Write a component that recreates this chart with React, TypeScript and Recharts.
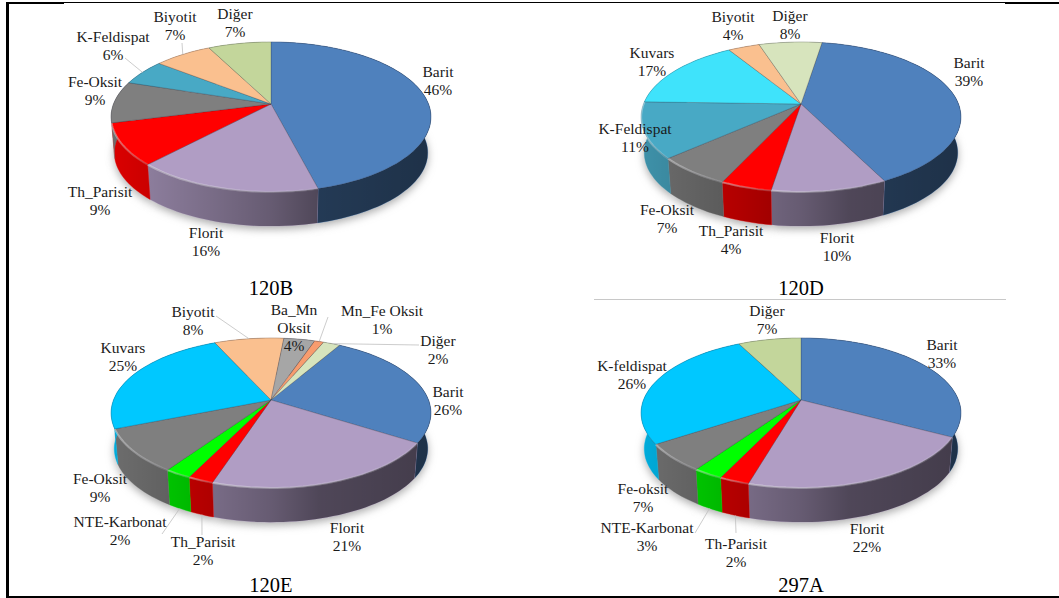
import React from 'react';
import { PieChart, Pie } from 'recharts';

// slice sizes are measured off the picture, the printed percents are kept apart because they do not always agree
// 120B
const names120B = ['Barit', 'Florit', 'Th_Parisit', 'Fe-Oksit', 'K-Feldispat', 'Biyotit', 'Diğer'];
const values120B = [46, 16, 9, 9, 5.6, 6.9, 7.5];
const printed120B = [46, 16, 9, 9, 6, 7, 7];
const colors120B = ['#4f81bd', '#b09dc4', '#ff0000', '#7f7f7f', '#48a9c5', '#fac08f', '#c3d69b'];
const spots120B = [[167, -27], [-65, 134], [-171, 93], [-176, -17], [-158, -62], [-96, -82], [-36, -85]];
const leaders120B = [null, null, null, null, [-146, -46], [-89, -61], null];

// 120D
const names120D = ['Barit', 'Florit', 'Th_Parisit', 'Fe-Oksit', 'K-Feldispat', 'Kuvars', 'Biyotit', 'Diğer'];
const values120D = [40, 9.9, 4.4, 6.5, 12, 15.7, 3.75, 7.5];
const printed120D = [39, 10, 4, 7, 11, 17, 4, 8];
const colors120D = ['#4f81bd', '#b09dc4', '#ff0000', '#7f7f7f', '#48a9c5', '#3fe3fb', '#fac08f', '#d7e4bd'];
const spots120D = [[168, -36], [36, 139], [-70, 132], [-134, 111], [-166, 30], [-149, -46], [-68, -82], [-11, -83]];
const leaders120D = names120D.map(() => null);

// 120E
const names120E = ['Barit', 'Florit', 'Th_Parisit', 'NTE-Karbonat', 'Fe-Oksit', 'Kuvars', 'Biyotit', 'Ba_Mn Oksit', 'Mn_Fe Oksit', 'Diğer'];
const values120E = [25.7, 21, 2.2, 2.3, 9.4, 24.3, 8.3, 3.7, 1.1, 2];
const printed120E = [26, 21, 2, 2, 9, 25, 8, 4, 1, 2];
const colors120E = ['#4f81bd', '#b09dc4', '#ff0000', '#00ff00', '#7f7f7f', '#00c8ff', '#fac08f', '#a6a6a6', '#f79c6e', '#d7e4bd'];
const spots120E = [[177, -3], [76, 133], [-68, 147], [-151, 127], [-171, 84], [-148, -47], [-78, -83], [23, -85], [111, -84], [167, -54]];
const leaders120E = [null, null, [-69, 135], [-109, 134], null, null, [-55, -84], null, [57, -83], [148, -55]];

// 297A
const names297A = ['Barit', 'Florit', 'Th-Parisit', 'NTE-Karbonat', 'Fe-oksit', 'K-feldispat', 'Diğer'];
const values297A = [32.8, 21.7, 2.6, 2.6, 6, 26.8, 7.5];
const printed297A = [33, 22, 2, 3, 7, 26, 7];
const colors297A = ['#4f81bd', '#b09dc4', '#ff0000', '#00ff00', '#7f7f7f', '#00c8ff', '#c3d69b'];
const spots297A = [[141, -50], [66, 134], [-65, 149], [-154, 133], [-158, 94], [-169, -29], [-34, -84]];
const leaders297A = [null, null, [-65, 133], [-106, 133], null, null, null];

const panels = [
  { title: '120B', cx: 271, cy: 104, start: 0, titleY: 295, names: names120B, values: values120B, printed: printed120B, colors: colors120B, spots: spots120B, leaders: leaders120B },
  { title: '120D', cx: 801, cy: 104, start: 9, titleY: 295, names: names120D, values: values120D, printed: printed120D, colors: colors120D, spots: spots120D, leaders: leaders120D },
  { title: '120E', cx: 271, cy: 400, start: 30, titleY: 592, names: names120E, values: values120E, printed: printed120E, colors: colors120E, spots: spots120E, leaders: leaders120E },
  { title: '297A', cx: 801, cy: 400, start: 0, titleY: 592, names: names297A, values: values297A, printed: printed297A, colors: colors297A, spots: spots297A, leaders: leaders297A },
];

// tilted disc with perspective, the near edge is drawn bigger than the far edge
const TILT = 0.4616;
const PERSPECTIVE = 0.173;
const RADIUS = 157.5;
const WALL_SCALE = 0.98;
const WALL_DROP = 36;

const project = (cx: number, cy: number, rx: number, deg: number, scale = 1, drop = 0) => {
  const a = (deg * Math.PI) / 180;
  const w = 1 + PERSPECTIVE * Math.cos(a);
  return [
    cx + (scale * rx * Math.sin(a)) / w,
    cy + drop - (scale * rx * TILT * Math.cos(a)) / w,
  ];
};

// recharts angles run counter clockwise from 3 o'clock, here they are clockwise from 12
const arc = (p: any, scale = 1, drop = 0, reverse = false) => {
  const from = 90 - p.startAngle;
  const to = 90 - p.endAngle;
  const steps = Math.max(2, Math.ceil(Math.abs(to - from) / 2));
  const pts = [];
  for (let i = 0; i <= steps; i++) {
    pts.push(project(p.cx, p.cy, p.outerRadius, from + ((to - from) * i) / steps, scale, drop));
  }
  return reverse ? pts.reverse() : pts;
};

const toPath = (pts: number[][]) => pts.map((q, i) => `${i ? 'L' : 'M'}${q[0].toFixed(1)} ${q[1].toFixed(1)}`).join(' ');

const isNear = (midAngle: number) => Math.cos(((90 - midAngle) * Math.PI) / 180) < 0;

const TopSlice = (p: any) => {
  const rim = arc(p);
  return (
    <g>
      <path d={`M${p.cx} ${p.cy} ${toPath(rim).replace('M', 'L')} Z`} fill={p.fill} stroke="rgba(40,40,60,0.32)" strokeWidth={0.7} />
      {isNear(p.midAngle) && <path d={toPath(rim)} fill="none" stroke="url(#rimShine)" strokeWidth={2} />}
    </g>
  );
};

const WallSlice = (p: any) => {
  const d = `${toPath(arc(p))} ${toPath(arc(p, WALL_SCALE, WALL_DROP, true)).replace('M', 'L')} Z`;
  return (
    <g>
      <path d={d} fill={p.fill} stroke={p.fill} strokeWidth={0.4} />
      <path d={d} fill={`url(#wallShade${p.cx})`} />
    </g>
  );
};

const ShadowSlice = (p: any) => {
  const d = `M${p.cx} ${p.cy + WALL_DROP} ${toPath(arc(p, WALL_SCALE, WALL_DROP + 3)).replace('M', 'L')} Z`;
  return <path d={d} fill="#a8a8a8" filter="url(#softShadow)" />;
};

const sliceLabel = (panel: any) => (p: any) => {
  const spot = panel.spots[p.index];
  const leader = panel.leaders[p.index];
  const x = p.cx + spot[0];
  const y = p.cy + spot[1];
  const words = panel.names[p.index] === 'Ba_Mn Oksit' ? ['Ba_Mn', 'Oksit'] : [panel.names[p.index]];
  const lines = [...words, `${panel.printed[p.index]}%`];
  const near = isNear(p.midAngle);
  const edge = project(p.cx, p.cy, p.outerRadius, 90 - p.midAngle, near ? WALL_SCALE : 1, near ? WALL_DROP : 0);
  return (
    <g key={p.index}>
      {leader && (
        <line x1={edge[0]} y1={edge[1]} x2={p.cx + leader[0]} y2={p.cy + leader[1]} stroke="#bfbfbf" strokeWidth={0.8} />
      )}
      <text x={x} y={y} textAnchor="middle" fontFamily="'Liberation Serif'" fontSize={15.5} fill="#1a1a1a">
        {lines.map((line, i) => (
          <tspan key={line} x={x} dy={i ? 18 : 0}>{line}</tspan>
        ))}
      </text>
    </g>
  );
};

const bar = (left: number, top: number, width: number, height: number, background = '#000') => (
  <div style={{ position: 'absolute', left, top, width, height, background }} />
);

export default function App() {
  return (
    <div style={{ position: 'absolute', left: 0, top: 0, width: 1059, height: 598, background: '#fff', overflow: 'hidden' }}>
      {bar(6, 2, 2.5, 596)}
      {bar(6, 2, 58, 2)}
      {bar(64, 2, 941, 1)}
      {bar(1005, 2, 54, 2)}
      {bar(6, 595.5, 1053, 2.5)}
      {bar(594, 299, 412, 1, '#c8c8c8')}
      <PieChart width={1059} height={598} margin={{ top: 0, right: 0, bottom: 0, left: 0 }} style={{ position: 'absolute', left: 0, top: 0 }}>
        <defs>
          {panels.map((panel) => (
            <linearGradient key={panel.title} id={`wallShade${panel.cx}`} gradientUnits="userSpaceOnUse" x1={panel.cx - 160} y1={0} x2={panel.cx + 160} y2={0}>
              <stop offset="0%" stopColor="#000" stopOpacity={0.14} />
              <stop offset="31%" stopColor="#000" stopOpacity={0.31} />
              <stop offset="50%" stopColor="#000" stopOpacity={0.42} />
              <stop offset="65%" stopColor="#000" stopOpacity={0.55} />
              <stop offset="100%" stopColor="#000" stopOpacity={0.62} />
            </linearGradient>
          ))}
          <linearGradient id="rimShine" x1="0" y1="0" x2="1" y2="0">
            <stop offset="0%" stopColor="#fff" stopOpacity={0.4} />
            <stop offset="100%" stopColor="#fff" stopOpacity={0.15} />
          </linearGradient>
          <filter id="softShadow" x="-20%" y="-20%" width="140%" height="140%">
            <feGaussianBlur stdDeviation="4" />
          </filter>
        </defs>
        {panels.flatMap((panel) => {
          const table = panel.names.map((name, i) => ({ name, value: panel.values[i], fill: panel.colors[i] }));
          const angles = { startAngle: 90 - panel.start, endAngle: 90 - panel.start - 360 };
          const common = { data: table, dataKey: 'value', nameKey: 'name', cx: panel.cx, cy: panel.cy, outerRadius: RADIUS, isAnimationActive: false, ...angles };
          return [
            <Pie key={`${panel.title}-shadow`} {...common} shape={ShadowSlice} inactiveShape={ShadowSlice} activeShape={ShadowSlice} />,
            <Pie key={`${panel.title}-wall`} {...common} shape={WallSlice} inactiveShape={WallSlice} activeShape={WallSlice} />,
            <Pie key={`${panel.title}-top`} {...common} shape={TopSlice} inactiveShape={TopSlice} activeShape={TopSlice} labelLine={false} label={sliceLabel(panel)} />,
          ];
        })}
        {panels.map((panel) => (
          <text key={panel.title} x={panel.cx} y={panel.titleY} textAnchor="middle" fontFamily="'Liberation Serif'" fontSize={20.5} fill="#000">
            {panel.title}
          </text>
        ))}
      </PieChart>
    </div>
  );
}
